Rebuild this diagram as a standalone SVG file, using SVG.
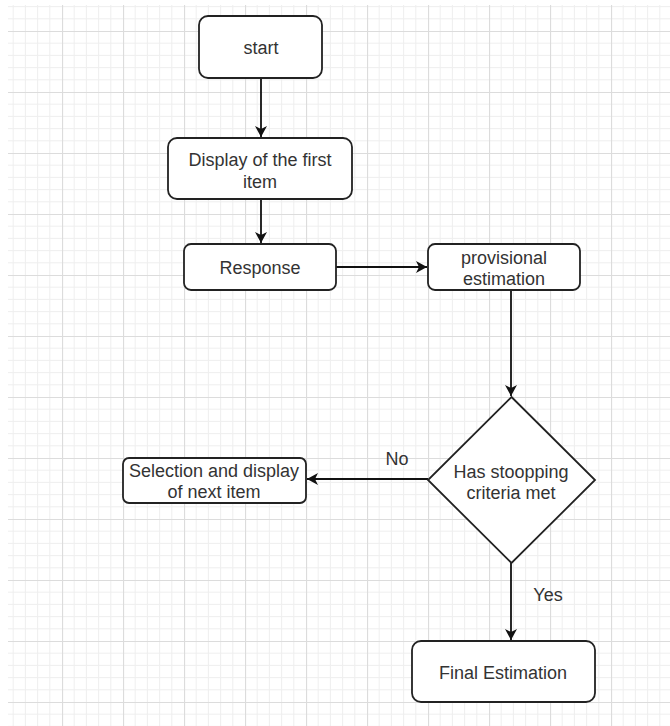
<svg xmlns="http://www.w3.org/2000/svg" width="670" height="726" viewBox="0 0 670 726">
<style>
.node rect,.node polygon{fill:#ffffff;stroke:#222222;stroke-width:1.8}
text{font-family:"Liberation Sans",Arial,sans-serif;font-size:18px;fill:#333333;text-anchor:middle}
.edge{stroke:#111111;stroke-width:1.8;fill:none;marker-end:url(#arr)}
</style>
<defs>
<pattern id="grid" patternUnits="userSpaceOnUse" x="1" y="31" width="61" height="61">
<rect width="61" height="61" fill="#ffffff"/>
<g stroke="#efefef" stroke-width="1">
<line x1="12.2" y1="0" x2="12.2" y2="61"/><line x1="24.4" y1="0" x2="24.4" y2="61"/><line x1="36.6" y1="0" x2="36.6" y2="61"/><line x1="48.8" y1="0" x2="48.8" y2="61"/>
<line x1="0" y1="12.2" x2="61" y2="12.2"/><line x1="0" y1="24.4" x2="61" y2="24.4"/><line x1="0" y1="36.6" x2="61" y2="36.6"/><line x1="0" y1="48.8" x2="61" y2="48.8"/>
</g>
<g stroke="#dcdcdc" stroke-width="1.2">
<line x1="0.5" y1="0" x2="0.5" y2="61"/><line x1="0" y1="0.5" x2="61" y2="0.5"/>
</g>
</pattern>
<marker id="arr" markerUnits="userSpaceOnUse" markerWidth="14" markerHeight="14" refX="11" refY="6" orient="auto">
<path d="M0,0 L11,6 L0,12 L3,6 Z" fill="#111111"/>
</marker>
</defs>
<rect width="670" height="726" fill="#ffffff"/>
<rect x="8" y="5" width="662" height="721" fill="url(#grid)"/>

<g id="connectors">
<line class="edge" x1="261" y1="78" x2="261" y2="137"/>
<line class="edge" x1="261" y1="199" x2="261" y2="243"/>
<line class="edge" x1="336" y1="267" x2="427" y2="267"/>
<line class="edge" x1="511" y1="290" x2="511" y2="396"/>
<line class="edge" x1="428" y1="479" x2="307" y2="479"/>
<line class="edge" x1="511" y1="563" x2="511" y2="640"/>
<text x="397" y="465">No</text>
<text x="548" y="601">Yes</text>
</g>

<g id="start" class="node">
<rect x="199" y="16" width="123" height="62" rx="9"/>
<text x="261" y="54">start</text>
</g>
<g id="display-first" class="node">
<rect x="168" y="138" width="184" height="61" rx="9"/>
<text x="260" y="165.5">Display of the first</text>
<text x="260" y="187.5">item</text>
</g>
<g id="response" class="node">
<rect x="184" y="244" width="152" height="46" rx="7"/>
<text x="260" y="273.5">Response</text>
</g>
<g id="provisional" class="node">
<rect x="428" y="244" width="152" height="46" rx="7"/>
<text x="504" y="263.5">provisional</text>
<text x="504" y="284.5">estimation</text>
</g>
<g id="decision" class="node">
<polygon points="511.5,397 595,480 511.5,563 428,480"/>
<text x="511" y="478">Has stoopping</text>
<text x="511" y="499">criteria met</text>
</g>
<g id="selection" class="node">
<rect x="123" y="458" width="183" height="45" rx="6"/>
<text x="214" y="477">Selection and display</text>
<text x="214" y="498">of next item</text>
</g>
<g id="final" class="node">
<rect x="412" y="641" width="183" height="61" rx="9"/>
<text x="503" y="678.5">Final Estimation</text>
</g>
</svg>
